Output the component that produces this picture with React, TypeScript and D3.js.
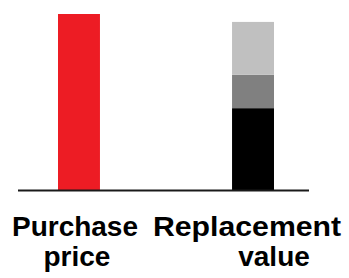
import React, { useRef, useEffect } from 'react';
import * as d3 from 'd3';

const categories = ['Purchase price', 'Replacement value'];
const labelLines = [['Purchase', 'price'], ['Replacement', 'value']];
const purchaseValues = [100, 0];
const replacementBase = [0, 46.5];
const replacementMid = [0, 19];
const replacementTop = [0, 30];
const segmentColors = ['#ED1C24', '#000000', '#808080', '#C0C0C0'];

// label line offsets from bar centre, as in the source picture
const labelOffsets = [[-4, -2], [-6, 21]];

const App: React.FC = () => {
  const svgRef = useRef<SVGSVGElement | null>(null);

  useEffect(() => {
    if (!svgRef.current) return;
    const svg = d3.select(svgRef.current);
    svg.selectAll('*').remove();

    const baseY = 190;

    const x = d3.scaleBand<string>()
      .domain(categories)
      .range([14.5, 317.5])
      .paddingInner(0.759)
      .paddingOuter(0.25);

    const y = d3.scaleLinear().domain([0, 100]).range([baseY, 14]);

    const rows = categories.map((c, i) => ({
      cat: c,
      purchase: purchaseValues[i],
      base: replacementBase[i],
      mid: replacementMid[i],
      top: replacementTop[i],
    }));
    const keys = ['purchase', 'base', 'mid', 'top'];
    const stacked = d3.stack<any>().keys(keys)(rows);

    svg.append('g')
      .selectAll('g')
      .data(stacked)
      .enter()
      .append('g')
      .attr('fill', (_d, i) => segmentColors[i])
      .selectAll('rect')
      .data(d => d.filter(p => p[1] - p[0] > 0))
      .enter()
      .append('rect')
      .attr('x', d => x(d.data.cat) ?? 0)
      .attr('width', x.bandwidth())
      .attr('y', d => y(d[1]))
      .attr('height', d => y(d[0]) - y(d[1]));

    // baseline
    svg.append('line')
      .attr('x1', 18)
      .attr('x2', 309)
      .attr('y1', baseY + 0.5)
      .attr('y2', baseY + 0.5)
      .attr('stroke', '#1a1a1a')
      .attr('stroke-width', 2);

    const labels = svg.append('g')
      .attr('font-family', 'Liberation Sans, Arial, sans-serif')
      .attr('font-weight', 'bold')
      .attr('font-size', 28)
      .attr('fill', '#000')
      .attr('text-anchor', 'middle');

    categories.forEach((c, i) => {
      const cx = (x(c) ?? 0) + x.bandwidth() / 2;
      labelLines[i].forEach((line, j) => {
        // the long label is a bit wider in the original
        const sx = line === 'Replacement' ? 1.08 : 1;
        labels.append('text')
          .attr('transform', `translate(${cx + labelOffsets[i][j]},${236 + j * 30}) scale(${sx},1)`)
          .text(line);
      });
    });
  }, []);

  return (
    <svg
      ref={svgRef}
      width={349}
      height={278}
      style={{ position: 'absolute', left: 0, top: 0, background: '#fff' }}
    />
  );
};

export default App;
